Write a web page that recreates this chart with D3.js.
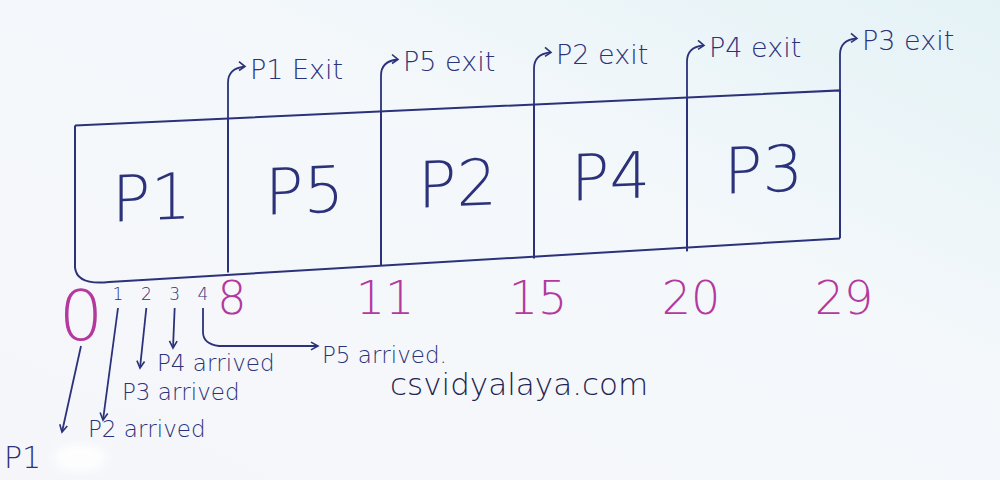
<!DOCTYPE html>
<html>
<head>
<meta charset="utf-8">
<script src="https://cdn.jsdelivr.net/npm/d3@7"></script>
<style>
  html, body { margin: 0; padding: 0; }
  body { width: 1000px; height: 480px; overflow: hidden; }
  svg text { font-family: "DejaVu Sans", sans-serif; }
</style>
</head>
<body>
<div id="chart"></div>
<script>
// Gantt chart data (SJF example).
var processes = ["P1", "P5", "P2", "P4", "P3"];
var boundaries = [0, 8, 11, 15, 20, 29];
var exitLabels = ["P1 Exit", "P5 exit", "P2 exit", "P4 exit", "P3 exit"];
var arrivalTimes = [0, 1, 2, 3, 4];
var arrivalText = ["P1", "P2 arrived", "P3 arrived", "P4 arrived", "P5 arrived."];

var width = 1000, height = 480;
var ink = "#2b327a", pink = "#b3399f";

var svg = d3.select("#chart").append("svg")
  .attr("width", width)
  .attr("height", height);

// Paper background.
var defs = svg.append("defs");
var grad = defs.append("linearGradient")
  .attr("id", "paper")
  .attr("x1", "0").attr("y1", "1").attr("x2", "1").attr("y2", "0");
grad.append("stop").attr("offset", "0").attr("stop-color", "#f6f6fa");
grad.append("stop").attr("offset", "0.6").attr("stop-color", "#f4f8fb");
grad.append("stop").attr("offset", "1").attr("stop-color", "#e4f2f6");
svg.append("rect").attr("width", width).attr("height", height).attr("fill", "url(#paper)");
defs.append("filter").attr("id", "blur")
  .append("feGaussianBlur").attr("stdDeviation", 4);

var x = d3.scaleBand().domain(processes).range([75, 840]).paddingInner(0).paddingOuter(0);
var edgeX = function (i) { return i < processes.length ? x(processes[i]) : x.range()[1]; };

// Box drawn with a slight slope: horizontals skewed, verticals kept upright.
var boxTop = 108, boxBottom = 256, slope = -0.046;
var cx = 457, cy = (boxTop + boxBottom) / 2;
function skew(px, py) { return [px, py + slope * (px - cx)]; }

var box = svg.append("g")
  .attr("transform", "matrix(1," + slope + ",0,1,0," + (-slope * cx) + ")");

box.append("path")
  .attr("d", "M" + x.range()[0] + "," + boxTop +
    " L" + x.range()[1] + "," + boxTop +
    " L" + x.range()[1] + "," + boxBottom)
  .attr("fill", "none").attr("stroke", ink).attr("stroke-width", 2);

// Left side with rounded corner into bottom line.
box.append("path")
  .attr("d", "M" + x.range()[0] + "," + boxTop +
    " L" + x.range()[0] + "," + (boxBottom - 6) +
    " Q" + (x.range()[0] + 2) + "," + (boxBottom + 12) + " " + (x.range()[0] + 34) + "," + (boxBottom + 10) +
    " L" + x.range()[1] + "," + boxBottom)
  .attr("fill", "none").attr("stroke", ink).attr("stroke-width", 2);

box.selectAll("line.divider")
  .data(processes.slice(1))
  .enter().append("line")
  .attr("class", "divider")
  .attr("x1", function (d) { return x(d); })
  .attr("x2", function (d) { return x(d); })
  .attr("y1", boxTop)
  .attr("y2", boxBottom + 6)
  .attr("stroke", ink).attr("stroke-width", 2);

box.selectAll("text.proc")
  .data(processes)
  .enter().append("text")
  .attr("class", "proc")
  .attr("x", function (d) { return x(d) + x.bandwidth() / 2; })
  .attr("y", cy + 24)
  .attr("text-anchor", "middle")
  .attr("font-size", 64)
  .attr("font-weight", 200)
  .attr("fill", ink)
  .text(function (d) { return d; });

// Exit arrows rising from each boundary.
var exits = svg.append("g");
exitLabels.forEach(function (label, i) {
  var p = skew(edgeX(i + 1), boxTop);
  var topY = p[1] - 48;
  exits.append("path")
    .attr("d", "M" + p[0] + "," + p[1] +
      " L" + p[0] + "," + (topY + 12) +
      " Q" + p[0] + "," + (topY - 2) + " " + (p[0] + 16) + "," + (topY - 4))
    .attr("fill", "none").attr("stroke", ink).attr("stroke-width", 1.8);
  exits.append("path")
    .attr("d", "M" + (p[0] + 11) + "," + (topY - 9) + " L" + (p[0] + 17) + "," + (topY - 4) + " L" + (p[0] + 11) + "," + (topY))
    .attr("fill", "none").attr("stroke", ink).attr("stroke-width", 1.6);
  exits.append("text")
    .attr("x", p[0] + 22)
    .attr("y", topY + 8)
    .attr("font-size", 27)
    .attr("font-weight", 200)
    .attr("fill", ink)
    .text(label);
});

// Completion times below the box.
svg.selectAll("text.tick")
  .data(boundaries)
  .enter().append("text")
  .attr("class", "tick")
  .attr("x", function (d, i) { return edgeX(i) + (i === 0 ? 6 : 4); })
  .attr("y", function (d, i) { return i === 0 ? 340 : 314; })
  .attr("text-anchor", "middle")
  .attr("font-size", function (d, i) { return i === 0 ? 70 : 46; })
  .attr("font-weight", 200)
  .attr("fill", pink)
  .text(function (d) { return d; });

// Arrival markers inside the first slot.
var ax = d3.scaleLinear().domain([1, 4]).range([118, 203]);
var arr = svg.append("g");
var arrivalTargets = [[62, 432], [103, 420], [140, 368], [173, 348], [318, 346]];
var arrivalLabelPos = [[4, 468], [88, 437], [122, 400], [157, 371], [322, 363]];
arrivalTimes.forEach(function (t, i) {
  var sx = t === 0 ? edgeX(0) + 6 : ax(t);
  if (t > 0) {
    arr.append("text")
      .attr("x", sx).attr("y", 300)
      .attr("text-anchor", "middle")
      .attr("font-size", 17)
      .attr("font-weight", 200)
      .attr("fill", ink)
      .text(t);
  }
  var sy = t === 0 ? 346 : 308;
  var tx = arrivalTargets[i][0], ty = arrivalTargets[i][1];
  var d;
  if (i === 4) {
    d = "M" + sx + "," + sy + " L" + sx + "," + (ty - 14) + " Q" + sx + "," + (ty - 2) + " " + (sx + 16) + "," + ty + " L" + tx + "," + ty;
  } else {
    d = "M" + sx + "," + sy + " L" + tx + "," + ty;
  }
  arr.append("path").attr("d", d).attr("fill", "none").attr("stroke", ink).attr("stroke-width", 1.8);
  // arrowhead
  var ang = i === 4 ? 0 : Math.atan2(ty - sy, tx - sx);
  var hl = 8;
  var h1 = [tx - hl * Math.cos(ang - 0.5), ty - hl * Math.sin(ang - 0.5)];
  var h2 = [tx - hl * Math.cos(ang + 0.5), ty - hl * Math.sin(ang + 0.5)];
  arr.append("path")
    .attr("d", "M" + h1 + " L" + tx + "," + ty + " L" + h2)
    .attr("fill", "none").attr("stroke", ink).attr("stroke-width", 1.6);
  arr.append("text")
    .attr("x", arrivalLabelPos[i][0])
    .attr("y", arrivalLabelPos[i][1])
    .attr("font-size", i === 0 ? 30 : 23)
    .attr("font-weight", 200)
    .attr("fill", ink)
    .text(arrivalText[i]);
});

// Smudge after "P1".
svg.append("ellipse")
  .attr("cx", 80).attr("cy", 458).attr("rx", 26).attr("ry", 14)
  .attr("fill", "#ffffff").attr("opacity", 0.85)
  .attr("filter", "url(#blur)");

// Watermark.
svg.append("text")
  .attr("x", 390).attr("y", 395)
  .attr("font-size", 31)
  .attr("font-weight", 200)
  .attr("fill", "#1f2350")
  .text("csvidyalaya.com");
</script>
</body>
</html>
